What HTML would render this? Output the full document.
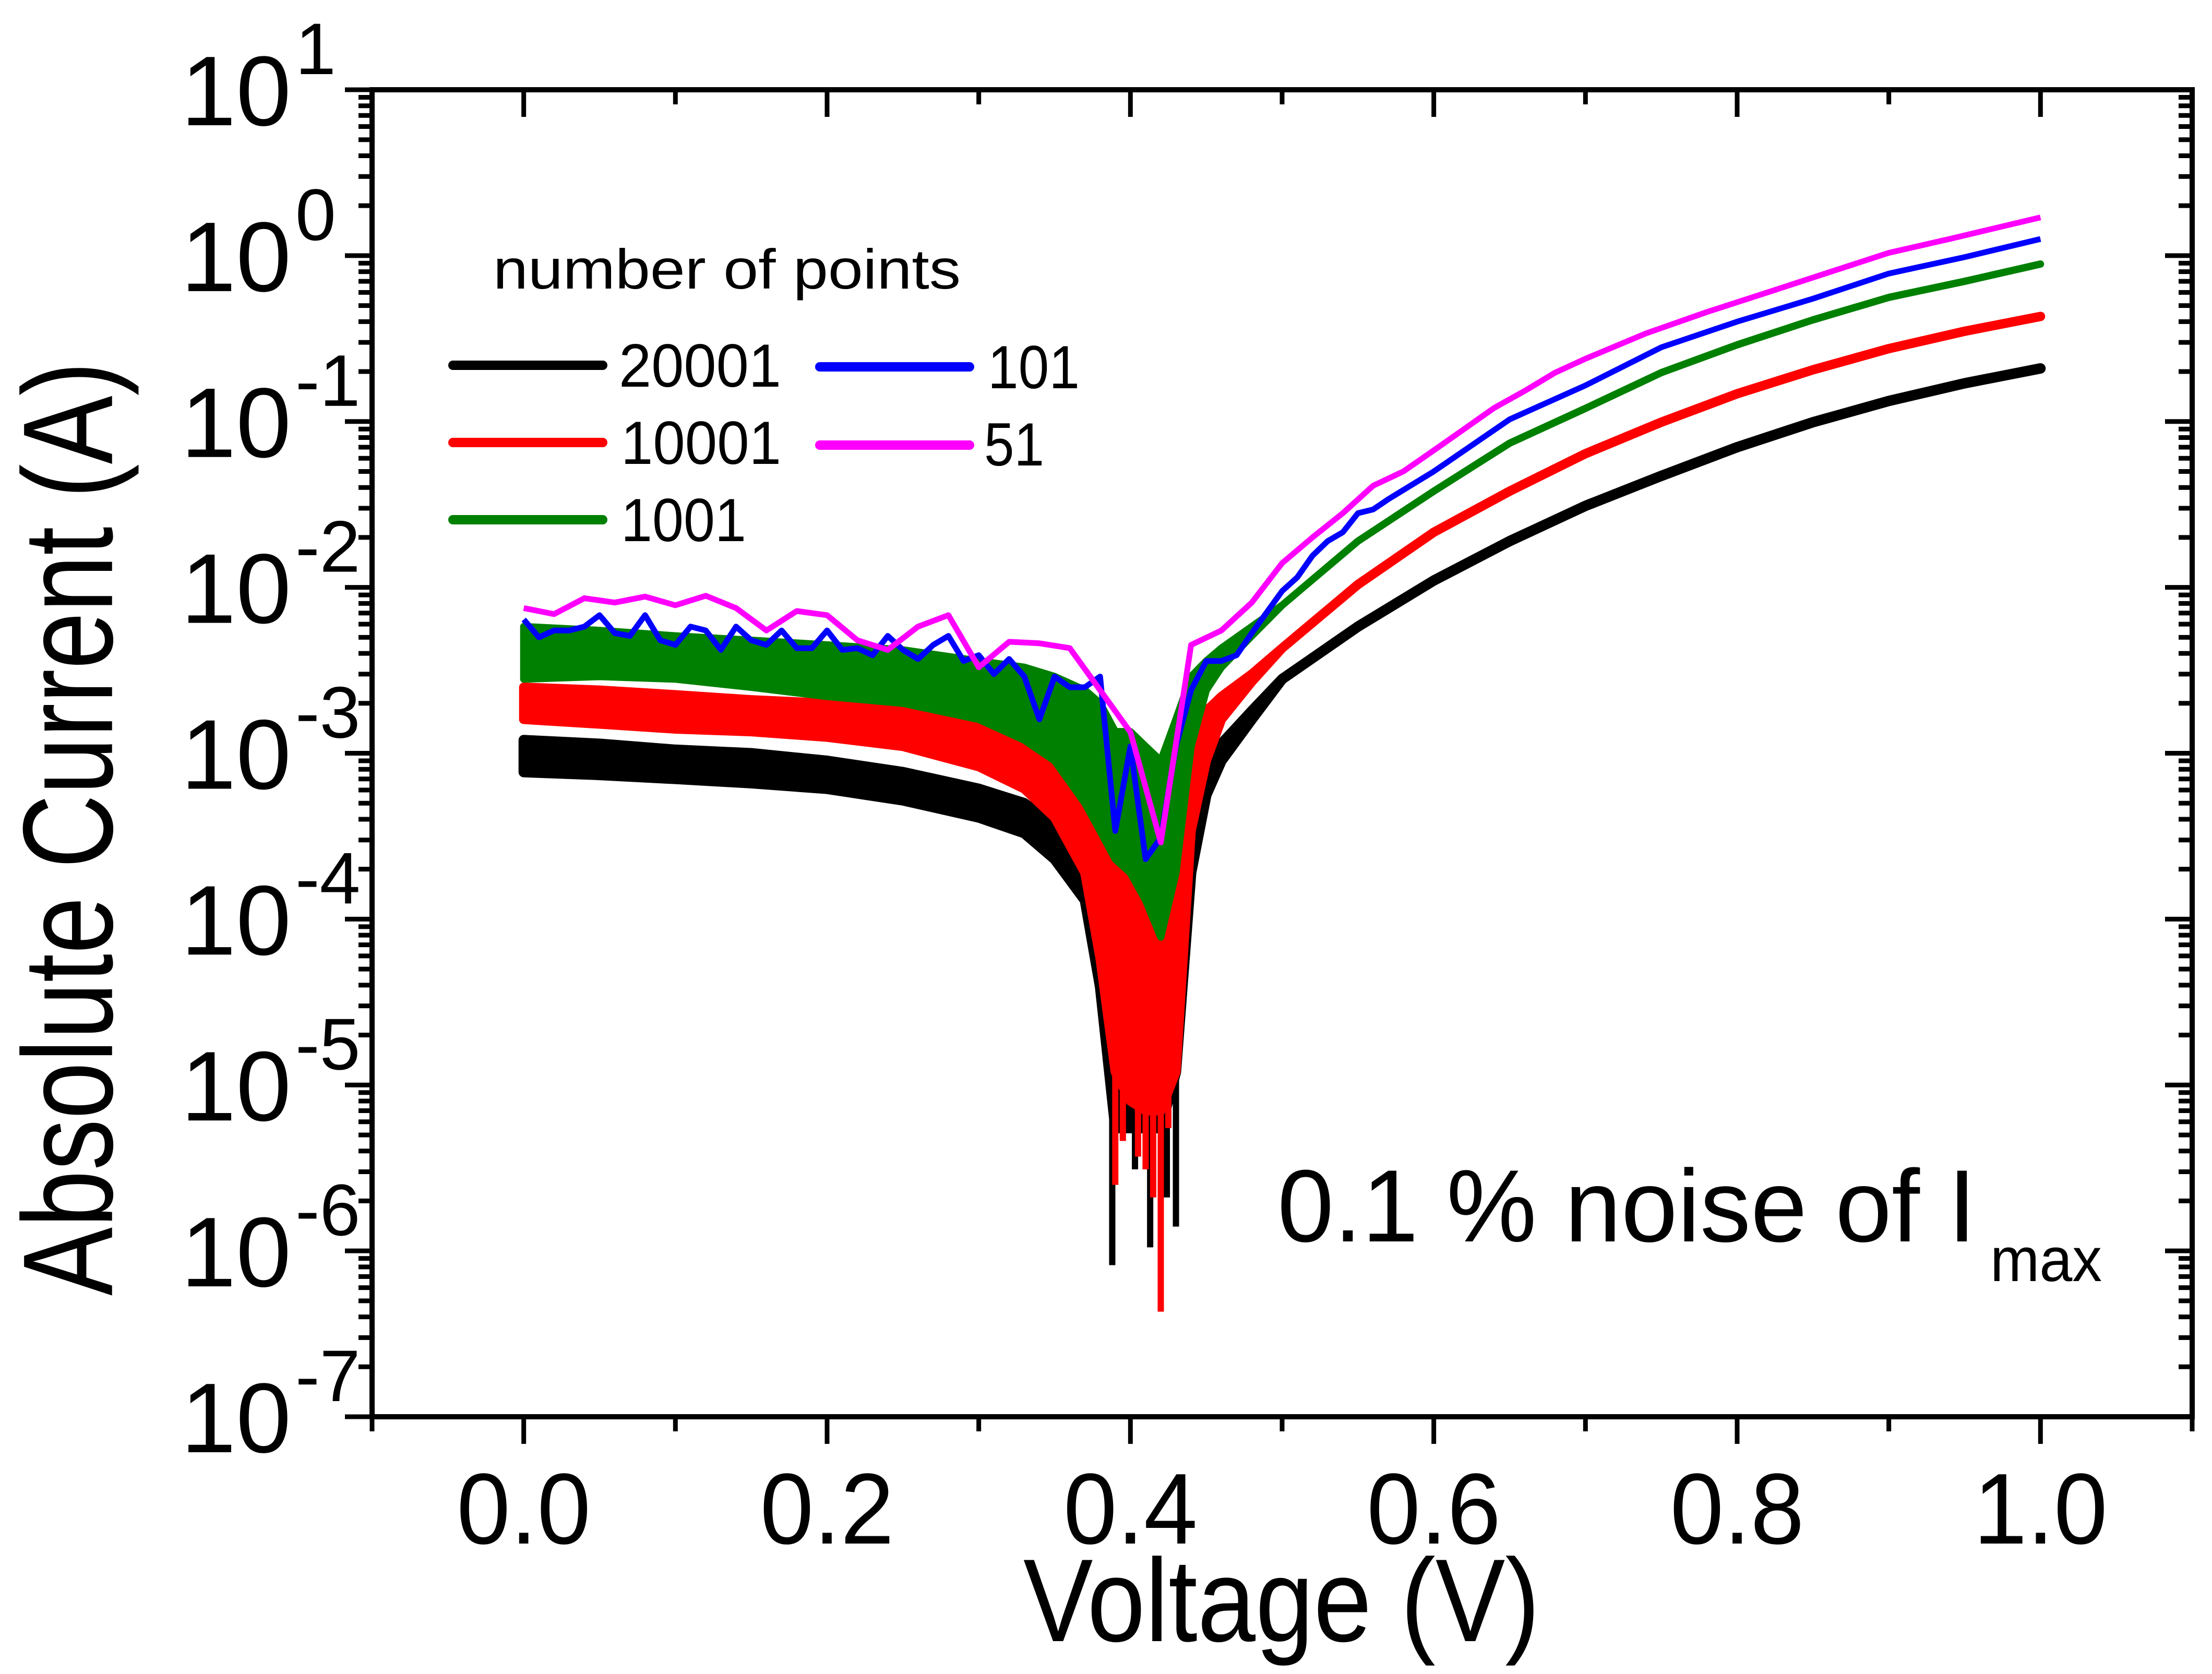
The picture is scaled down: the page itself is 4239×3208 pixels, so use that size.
<!DOCTYPE html>
<html><head><meta charset="utf-8"><style>
html,body{margin:0;padding:0;background:#fff;}
svg{display:block;}
text{font-family:"Liberation Sans",sans-serif;fill:#000;}
</style></head><body>
<svg id="chart" width="4239" height="3208" viewBox="0 0 4239 3208" xmlns="http://www.w3.org/2000/svg">
<rect x="0" y="0" width="4239" height="3208" fill="#fff"/>
<g id="series"></g>
<g id="axes"></g>
<text x="150" y="1588" font-size="245" text-anchor="middle" textLength="1790" lengthAdjust="spacingAndGlyphs" transform="rotate(-90 150 1588)" dominant-baseline="middle">Absolute Current (A)</text>
<text x="2456" y="3145" font-size="226" text-anchor="middle" textLength="990" lengthAdjust="spacingAndGlyphs">Voltage (V)</text>
<g>
<text x="945" y="553" font-size="108" textLength="896" lengthAdjust="spacingAndGlyphs">number of points</text>
<line x1="868" y1="700" x2="1155" y2="700" stroke="#000" stroke-width="18" stroke-linecap="round"/>
<text x="1186" y="741" font-size="117" textLength="311" lengthAdjust="spacingAndGlyphs">20001</text>
<line x1="868" y1="848" x2="1155" y2="848" stroke="#ff0000" stroke-width="18" stroke-linecap="round"/>
<text x="1190" y="889" font-size="117" textLength="307" lengthAdjust="spacingAndGlyphs">10001</text>
<line x1="868" y1="996" x2="1155" y2="996" stroke="#008000" stroke-width="18" stroke-linecap="round"/>
<text x="1190" y="1037" font-size="117" textLength="240" lengthAdjust="spacingAndGlyphs">1001</text>
<line x1="1571" y1="703" x2="1858" y2="703" stroke="#0000ff" stroke-width="18" stroke-linecap="round"/>
<text x="1893" y="744" font-size="117" textLength="176" lengthAdjust="spacingAndGlyphs">101</text>
<line x1="1571" y1="853" x2="1858" y2="853" stroke="#ff00ff" stroke-width="18" stroke-linecap="round"/>
<text x="1886" y="892" font-size="117" textLength="115" lengthAdjust="spacingAndGlyphs">51</text>
</g>
<text x="2448" y="2379" font-size="197" textLength="1339" lengthAdjust="spacingAndGlyphs">0.1 % noise of I</text>
<text x="3814" y="2455" font-size="120" textLength="214" lengthAdjust="spacingAndGlyphs">max</text>
</svg>
<script>
// ---- data ----
const xTicks = [0.0, 0.2, 0.4, 0.6, 0.8, 1.0];
const xTickLabels = ["0.0", "0.2", "0.4", "0.6", "0.8", "1.0"];
const yDecades = [1, 0, -1, -2, -3, -4, -5, -6, -7];

// dense noisy series: voltages + upper/lower envelopes (A)
const bandV = [0,0.05,0.1,0.15,0.2,0.25,0.3,0.33,0.35,0.37,0.38,0.39,0.4,0.41,0.42,0.43,0.44,0.45,0.46,0.48,0.5,0.55,0.6,0.65,0.7,0.75,0.8,0.85,0.9,0.95,1.0];
const blackUpper = [1.2e-3,1.14e-3,1.05e-3,1.0e-3,9.0e-4,7.7e-4,6.1e-4,5.0e-4,3.7e-4,2.5e-4,1.5e-4,1.0e-4,8.5e-5,8.5e-5,1.0e-4,1.9e-4,5.0e-4,8.2e-4,1.14e-3,1.8e-3,2.8e-3,5.8e-3,1.1e-2,1.9e-2,3.1e-2,4.7e-2,7.0e-2,9.9e-2,0.133,0.17,0.209];
const blackLower = [7.7e-4,7.4e-4,7.0e-4,6.6e-4,6.1e-4,5.2e-4,4.1e-4,3.3e-4,2.3e-4,1.3e-4,3.9e-5,5.5e-6,5.5e-6,5.5e-6,5.5e-6,1.2e-5,1.9e-4,5.6e-4,9.0e-4,1.6e-3,2.8e-3,5.8e-3,1.1e-2,1.9e-2,3.1e-2,4.7e-2,7.0e-2,9.9e-2,0.133,0.17,0.209];
const redUpper = [2.5e-3,2.4e-3,2.25e-3,2.1e-3,2.0e-3,1.8e-3,1.6e-3,1.35e-3,1.1e-3,9.0e-4,8.3e-4,6.1e-4,5.0e-4,4.6e-4,4.6e-4,6.1e-4,1.35e-3,1.8e-3,2.2e-3,3.0e-3,4.3e-3,1.04e-2,2.15e-2,3.8e-2,6.4e-2,9.9e-2,0.147,0.205,0.275,0.35,0.43];
const redLower = [1.6e-3,1.5e-3,1.4e-3,1.35e-3,1.25e-3,1.1e-3,8.3e-4,6.1e-4,4.1e-4,1.9e-4,5.8e-5,1.2e-5,8.0e-6,7.0e-6,7.0e-6,1.2e-5,3.4e-4,9.0e-4,1.6e-3,2.7e-3,4.3e-3,1.04e-2,2.15e-2,3.8e-2,6.4e-2,9.9e-2,0.147,0.205,0.275,0.35,0.43];
const greenUpper = [5.8e-3,5.5e-3,5.1e-3,4.8e-3,4.5e-3,4.2e-3,3.6e-3,3.3e-3,2.9e-3,2.4e-3,2.0e-3,1.35e-3,1.35e-3,1.1e-3,9.0e-4,1.6e-3,2.9e-3,3.6e-3,4.3e-3,5.8e-3,7.8e-3,1.9e-2,3.8e-2,7.4e-2,0.12,0.197,0.29,0.41,0.56,0.70,0.89];
const greenLower = [2.8e-3,2.9e-3,2.8e-3,2.5e-3,2.2e-3,2.0e-3,1.6e-3,1.2e-3,9.0e-4,5.0e-4,3.4e-4,2.3e-4,1.9e-4,1.3e-4,7.8e-5,1.9e-4,1.1e-3,2.4e-3,3.3e-3,5.1e-3,7.8e-3,1.9e-2,3.8e-2,7.4e-2,0.12,0.197,0.29,0.41,0.56,0.70,0.89];

// downward spikes near the minimum
const blackSpikeV = [0.388,0.397,0.403,0.413,0.424,0.430];
const blackSpikeI = [8.2e-7,5.5e-6,3.1e-6,1.05e-6,2.1e-6,1.4e-6];
const redSpikeV = [0.390,0.395,0.405,0.410,0.415,0.420,0.425];
const redSpikeI = [2.5e-6,4.6e-6,3.7e-6,3.1e-6,2.1e-6,4.3e-7,5.5e-6];

// sparse series
const blueV = [0,0.01,0.02,0.03,0.04,0.05,0.06,0.07,0.08,0.09,0.10,0.11,0.12,0.13,0.14,0.15,0.16,0.17,0.18,0.19,0.20,0.21,0.22,0.23,0.24,0.25,0.26,0.27,0.28,0.29,0.30,0.31,0.32,0.33,0.34,0.35,0.36,0.37,0.38,0.39,0.40,0.41,0.42,0.43,0.44,0.45,0.46,0.47,0.48,0.49,0.50,0.51,0.52,0.53,0.54,0.55,0.56,0.57,0.60,0.65,0.70,0.75,0.80,0.85,0.90,0.95,1.0];
const blueI = [6.4e-3,5.0e-3,5.5e-3,5.5e-3,5.8e-3,6.8e-3,5.3e-3,5.1e-3,6.8e-3,4.8e-3,4.5e-3,5.8e-3,5.5e-3,4.2e-3,5.8e-3,4.8e-3,4.5e-3,5.5e-3,4.3e-3,4.3e-3,5.5e-3,4.2e-3,4.3e-3,3.9e-3,5.1e-3,4.2e-3,3.7e-3,4.5e-3,5.1e-3,3.6e-3,3.9e-3,3.0e-3,3.7e-3,2.9e-3,1.6e-3,2.9e-3,2.5e-3,2.5e-3,2.9e-3,3.4e-4,1.1e-3,2.3e-4,3.1e-4,1.1e-3,2.4e-3,3.6e-3,3.6e-3,3.9e-3,5.3e-3,7.1e-3,9.5e-3,1.15e-2,1.55e-2,1.9e-2,2.15e-2,2.8e-2,2.95e-2,3.4e-2,5.0e-2,0.103,0.165,0.28,0.40,0.55,0.78,0.98,1.26];
const magentaV = [0,0.02,0.04,0.06,0.08,0.10,0.12,0.14,0.16,0.18,0.20,0.22,0.24,0.26,0.28,0.30,0.32,0.34,0.36,0.38,0.40,0.42,0.44,0.46,0.48,0.50,0.52,0.54,0.56,0.58,0.60,0.62,0.64,0.66,0.68,0.70,0.74,0.78,0.82,0.86,0.90,0.94,1.0];
const magentaI = [7.5e-3,6.9e-3,8.6e-3,8.1e-3,8.8e-3,7.8e-3,8.9e-3,7.5e-3,5.5e-3,7.2e-3,6.8e-3,4.8e-3,4.2e-3,5.8e-3,6.8e-3,3.3e-3,4.7e-3,4.6e-3,4.3e-3,2.4e-3,1.34e-3,2.9e-4,4.5e-3,5.5e-3,8.1e-3,1.4e-2,2.0e-2,2.8e-2,4.1e-2,5.0e-2,6.7e-2,9.0e-2,0.121,0.153,0.197,0.239,0.34,0.457,0.60,0.79,1.04,1.26,1.7];

// ---- axes functions ----
const X0 = 713, X1 = 4201, Y0 = 2715, Y1 = 172;
const VMIN = -0.1, VMAX = 1.1, LMIN = -7, LMAX = 1;
function sx(v){ return X0 + (v - VMIN) / (VMAX - VMIN) * (X1 - X0); }
function sy(i){ return Y0 - (Math.log10(i) - LMIN) / (LMAX - LMIN) * (Y0 - Y1); }

const NS = "http://www.w3.org/2000/svg";
const seriesG = document.getElementById('series');
const axesG = document.getElementById('axes');
function mk(tag, parent){ const e = document.createElementNS(NS, tag); parent.appendChild(e); return e; }

function drawBand(vs, up, lo, color, sw, name){
  let pts = [];
  for (let k = 0; k < vs.length; k++) pts.push(sx(vs[k]).toFixed(1) + ',' + sy(up[k]).toFixed(1));
  for (let k = vs.length - 1; k >= 0; k--) pts.push(sx(vs[k]).toFixed(1) + ',' + sy(lo[k]).toFixed(1));
  const p = mk('polygon', seriesG);
  p.setAttribute('points', pts.join(' '));
  p.setAttribute('fill', color);
  p.setAttribute('stroke', color);
  p.setAttribute('stroke-width', sw);
  p.setAttribute('stroke-linejoin', 'round');
  
  
}
function drawSpikes(vs, is, color, name){
  for (let k = 0; k < vs.length; k++){
    const l = mk('line', seriesG);
    l.setAttribute('x1', sx(vs[k])); l.setAttribute('x2', sx(vs[k]));
    l.setAttribute('y1', sy(1.5e-4)); l.setAttribute('y2', sy(is[k]));
    l.setAttribute('stroke', color); l.setAttribute('stroke-width', 12);
    
    
  }
}
function drawLine(vs, is, color, sw, name){
  const p = mk('polyline', seriesG);
  p.setAttribute('points', vs.map((v, k) => sx(v).toFixed(1) + ',' + sy(is[k]).toFixed(1)).join(' '));
  p.setAttribute('fill', 'none');
  p.setAttribute('stroke', color);
  p.setAttribute('stroke-width', sw);
  p.setAttribute('stroke-linejoin', 'round');
  
  
}

drawBand(bandV, blackUpper, blackLower, '#000000', 20, 'series-20001');
drawSpikes(blackSpikeV, blackSpikeI, '#000000', 'spike-20001');
drawBand(bandV, redUpper, redLower, '#ff0000', 18, 'series-10001');
drawSpikes(redSpikeV, redSpikeI, '#ff0000', 'spike-10001');
drawBand(bandV, greenUpper, greenLower, '#008000', 14, 'series-1001');
drawLine(blueV, blueI, '#0000ff', 11, 'series-101');
drawLine(magentaV, magentaI, '#ff00ff', 11, 'series-51');

// frame
const frame = mk('rect', axesG);
frame.setAttribute('x', X0); frame.setAttribute('y', Y1);
frame.setAttribute('width', X1 - X0); frame.setAttribute('height', Y0 - Y1);
frame.setAttribute('fill', 'none'); frame.setAttribute('stroke', '#000'); frame.setAttribute('stroke-width', 10);



function tick(x1, y1, x2, y2, name){
  const l = mk('line', axesG);
  l.setAttribute('x1', x1); l.setAttribute('y1', y1); l.setAttribute('x2', x2); l.setAttribute('y2', y2);
  l.setAttribute('stroke', '#000'); l.setAttribute('stroke-width', 9);
  
  
}
// x ticks (major every 0.2, minor in between)
for (let k = -1; k <= 11; k++){
  const v = k / 10;
  const x = sx(v);
  const major = (k % 2 === 0);
  const len = major ? 52 : 28;
  tick(x, Y0, x, Y0 + len, 'x-tick');
  tick(x, Y1, x, Y1 + len, 'x-tick-top');
}
xTicks.forEach((v, k) => {
  const t = mk('text', axesG);
  t.setAttribute('x', sx(v)); t.setAttribute('y', 2958);
  t.setAttribute('font-size', 193); t.setAttribute('text-anchor', 'middle');
  t.setAttribute('textLength', 257); t.setAttribute('lengthAdjust', 'spacingAndGlyphs');
  t.textContent = xTickLabels[k];
  
  
});
// y ticks
yDecades.forEach(d => {
  const y = sy(Math.pow(10, d));
  tick(X0, y, X0 - 52, y, 'y-tick');
  tick(X1, y, X1 - 52, y, 'y-tick-right');
  if (d > LMIN){
    for (let m = 2; m <= 9; m++){
      const ym = sy(m * Math.pow(10, d - 1));
      tick(X0, ym, X0 - 26, ym, 'y-minor-tick');
      tick(X1, ym, X1 - 26, ym, 'y-minor-tick-right');
    }
  }
  const t = mk('text', axesG);
  t.setAttribute('x', 558); t.setAttribute('y', y + 68);
  t.setAttribute('font-size', 190); t.setAttribute('text-anchor', 'end');
  t.textContent = '10';
  
  
  const s = mk('text', axesG);
  s.setAttribute('x', 566); s.setAttribute('y', y - 30);
  s.setAttribute('font-size', 140);
  s.textContent = String(d);
  
  
});
</script>
</body></html>
